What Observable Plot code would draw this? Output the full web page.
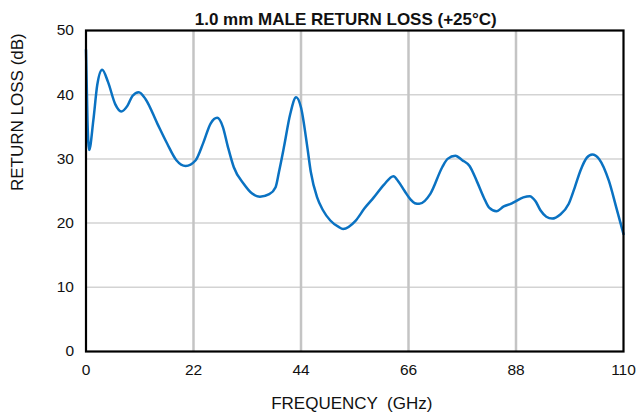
<!DOCTYPE html>
<html>
<head>
<meta charset="utf-8">
<script src="https://cdn.jsdelivr.net/npm/d3@7"></script>
<script src="https://cdn.jsdelivr.net/npm/@observablehq/plot@0.6"></script>
<style>
  html, body { margin: 0; padding: 0; background: #fff; }
  #chart { width: 636px; height: 417px; }
</style>
</head>
<body>
<div id="chart"></div>
<script>
const title = "1.0 mm MALE RETURN LOSS (+25\u00B0C)";
const xLabel = "FREQUENCY  (GHz)";
const yLabel = "RETURN LOSS (dB)";
const xTicks = [0, 22, 44, 66, 88, 110];
const yTicks = [0, 10, 20, 30, 40, 50];

const freqGHz = [0, 0.3, 0.65, 1.5, 2.3, 3.3, 4.5, 6, 7.2, 8.5, 9.5, 10.8, 12.2, 14.6, 16.6, 18.5, 20.4, 22.4, 24, 25.5, 26.85, 28, 29, 30.25, 32.3, 34, 35.6, 37.5, 38.8, 39.5, 40.5, 41.8, 43.0, 44, 45.3, 46, 47.3, 48.5, 50, 51.7, 52.6, 55.2, 57, 58.9, 61, 62.9, 64, 65.2, 66.4, 67.3, 68.2, 70.5, 72.9, 74, 75.6, 77, 78.5, 80, 81.4, 82.5, 84, 85.5, 86.9, 87.9, 89.5, 90.8, 92, 93, 94.2, 95.4, 97, 98.8, 100, 101.2, 102.5, 103.6, 105, 107, 108.5, 110];
const returnLossDb = [47, 36, 31.4, 36, 41.5, 43.9, 42, 38.5, 37.4, 38.3, 39.8, 40.4, 39.3, 35.5, 32.4, 29.8, 28.9, 29.75, 32.5, 35.5, 36.4, 35, 32, 28.7, 26.1, 24.6, 24.1, 24.5, 25.6, 28, 31.8, 37, 39.6, 38, 31.8, 28, 24.0, 22, 20.4, 19.4, 19.1, 20.4, 22.3, 24.0, 26, 27.3, 26.4, 25.0, 23.7, 23.1, 23.0, 24.6, 28.7, 30, 30.5, 29.8, 28.9, 26.5, 24.0, 22.4, 21.85, 22.6, 23.0, 23.4, 24.0, 24.2, 23.4, 22.0, 21.0, 20.7, 21.3, 23.0, 25.5, 28.2, 30.2, 30.7, 30.0, 26.6, 22.5, 18.3];

const data = freqGHz.map((f, i) => ({f, db: returnLossDb[i]}));

const chart = Plot.plot({
  width: 636,
  height: 417,
  marginLeft: 85.5,
  marginRight: 13,
  marginTop: 30,
  marginBottom: 66,
  style: {fontFamily: "'Liberation Sans', Arial, sans-serif", fontSize: "15.5px", color: "#111", background: "#fff"},
  x: {domain: [0, 110]},
  y: {domain: [0, 50]},
  marks: [
    Plot.ruleY(yTicks.filter(d => d > 0 && d < 50), {stroke: "#d3d3d3", strokeWidth: 1.5}),
    Plot.ruleX(xTicks.filter(d => d > 0 && d < 110), {stroke: "#c4c4c4", strokeWidth: 2.5}),
    Plot.axisX({ticks: xTicks, tickSize: 0, tickPadding: 12, label: null, fontSize: 15.5}),
    Plot.axisY({ticks: yTicks, tickSize: 0, tickPadding: 12, label: null, fontSize: 15.5}),
    Plot.line(data, {x: "f", y: "db", stroke: "#0a72c2", strokeWidth: 2.5, curve: "monotone-x"}),
    Plot.frame({stroke: "#000", strokeWidth: 2.2}),
    Plot.text([title], {frameAnchor: "top", dy: -18, dx: -9, fontWeight: "bold", fontSize: 17, fill: "#111"}),
    Plot.text([xLabel], {frameAnchor: "bottom", dy: 57, dx: -3, fontSize: 17, fill: "#111"}),
    Plot.text([yLabel], {frameAnchor: "left", dx: -68.5, rotate: -90, fontSize: 17, fill: "#111"})
  ]
});

document.getElementById("chart").appendChild(chart);
</script>
</body>
</html>
